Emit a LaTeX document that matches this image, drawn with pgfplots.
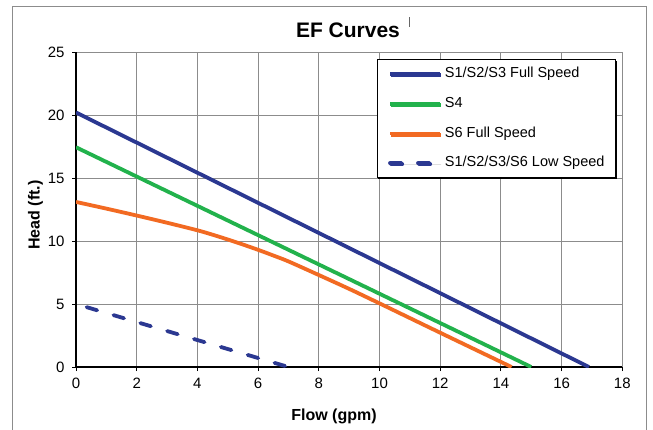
\documentclass[border=0pt]{standalone}
\usepackage{pgfplots}
\pgfplotsset{compat=1.18}
\usepackage{fontspec}
\setmainfont{Liberation Sans}
\usetikzlibrary{shadows}
\definecolor{cblue}{HTML}{2B3891}
\definecolor{cgreen}{HTML}{22B24C}
\definecolor{corange}{HTML}{F26A22}
\definecolor{cgrid}{HTML}{8C8C8C}
\begin{document}
\begin{tikzpicture}
\useasboundingbox (0bp,0bp) rectangle (653bp,-430bp);
\fill[white] (0bp,0bp) rectangle (653bp,-430bp);
\draw[cgrid, line width=1bp] (12bp,-6bp) rectangle (646bp,-445bp);
\begin{axis}[
  at={(76bp,-367bp)}, anchor=south west,
  scale only axis, width=546.3bp, height=315bp,
  xmin=0, xmax=18, ymin=0, ymax=25,
  xtick={0,2,...,18}, ytick={0,5,...,25},
  axis x line*=bottom, axis y line*=left,
  axis line style={black, line width=1.2bp, -},
  grid=major, grid style={cgrid, line width=1bp},
  tick align=outside, major tick length=4bp,
  tick style={black, line width=1bp},
  ticklabel style={font=\fontsize{15bp}{17bp}\selectfont},
  yticklabel style={xshift=-4bp},
  xticklabel style={yshift=-3.5bp},
  /pgf/number format/assume math mode=true,
  legend style={at={(0.9885,0.9768)}, anchor=north east, draw=black, line width=1bp,
    fill=white, drop shadow={shadow xshift=1.2bp, shadow yshift=-1.2bp, fill=black, opacity=1},
    font=\fontsize{14.5bp}{17bp}\selectfont,
    inner xsep=11bp, inner ysep=7.5bp, row sep=16.2bp, column sep=3bp,
    nodes={inner sep=0pt, text height=10.5bp, text depth=3bp}},
  legend cell align=left,
  legend image code/.code={\draw[#1] (0bp,0bp) -- (50bp,0bp);},
]
\addplot[cblue, line width=3.8bp] coordinates {(0,20.2) (4,15.42) (8,10.64) (12,5.86) (16.9,0)};
\addlegendentry{S1/S2/S3 Full Speed}
\addplot[cgreen, line width=3.8bp] coordinates {(0,17.44) (4,12.79) (8,8.14) (12,3.49) (15.0,0)};
\addlegendentry{S4}
\addplot[corange, line width=3.8bp, smooth, tension=0.5] coordinates {(0,13.1) (1,12.57) (2,12.02) (3,11.45) (4,10.85) (4.5,10.5) (5,10.12) (5.5,9.72) (6,9.3) (6.5,8.85) (7,8.38) (8,7.3) (9,6.2) (10,5.05) (12,2.72) (14.35,0)};
\addlegendentry{S6 Full Speed}
\addplot[cblue, line width=3.8bp, line cap=round, dash pattern=on 11bp off 17bp] coordinates {(0.35,4.75) (4,2.14) (7.0,0)};
\addlegendentry{S1/S2/S3/S6 Low Speed}
\end{axis}
\node[font=\bfseries\fontsize{21bp}{24bp}\selectfont] at (348bp,-30bp) {EF Curves};
\draw[black!60, line width=0.8bp] (409bp,-17bp) -- (409bp,-27bp);
\node[anchor=base, font=\bfseries\fontsize{16bp}{19bp}\selectfont] at (334bp,-420bp) {Flow (gpm)};
\node[anchor=base, rotate=90, font=\bfseries\fontsize{16bp}{19bp}\selectfont] at (39.5bp,-215bp) {Head (ft.)};
\end{tikzpicture}
\end{document}
